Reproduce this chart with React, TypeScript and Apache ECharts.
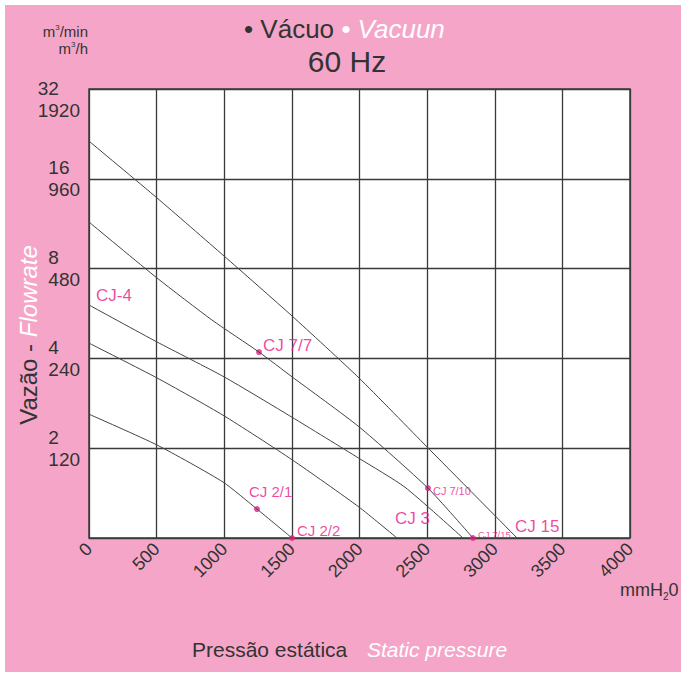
import React, { useEffect, useRef } from 'react';
import * as echarts from 'echarts';

// Curves: static pressure (mmH2O) vs flow (m3/min)
const cj15Pressure = [0, 503, 998, 1501, 1996, 2499, 3165];
const cj15Flow = [21.4, 13.8, 8.82, 5.55, 3.44, 2.02, 1.0];
const cj7Pressure = [0, 503, 909, 1257, 1501, 1996, 2506, 2839];
const cj7Flow = [11.46, 7.44, 5.38, 4.2, 3.47, 2.36, 1.47, 1.0];
const cj4Pressure = [0, 503, 998, 1501, 1996, 2336, 2765];
const cj4Flow = [6.04, 4.54, 3.47, 2.54, 1.85, 1.48, 1.0];
const cj3Pressure = [0, 503, 991, 1501, 1996, 2277];
const cj3Flow = [4.5, 3.44, 2.58, 1.83, 1.27, 1.0];
const cj2Pressure = [0, 503, 991, 1242, 1501];
const cj2Flow = [2.6, 2.05, 1.54, 1.25, 1.0];

// Model points marked with dots
const modelNames = ['CJ 7/7', 'CJ 7/10', 'CJ 7/15', 'CJ 2/1', 'CJ 2/2'];
const modelPressure = [1257, 2506, 2839, 1242, 1501];
const modelFlow = [4.2, 1.47, 1.0, 1.25, 1.0];

const PINK = '#F5A6C8';
const MAGENTA = '#E8198A';
const DARK = '#333333';
const FONT = 'Liberation Sans, Arial, sans-serif';

const labelStyles: Record<string, { offset: number[]; fontSize: number }> = {
  'CJ 7/7': { offset: [1, -7], fontSize: 17 },
  'CJ 7/10': { offset: [2, 3], fontSize: 11 },
  'CJ 7/15': { offset: [2, -4], fontSize: 9.5 },
  'CJ 2/1': { offset: [-11, -18], fontSize: 15 },
  'CJ 2/2': { offset: [2, -8], fontSize: 15 },
  'CJ-4': { offset: [7, -10], fontSize: 17 },
  'CJ 3': { offset: [-2, -20], fontSize: 17 },
  'CJ 15': { offset: [-2, -12], fontSize: 17 },
};

const zip = (xs: number[], ys: number[]) => xs.map((x, i) => [x, ys[i]]);

export default function App() {
  const ref = useRef<HTMLDivElement>(null);
  useEffect(() => {
    if (!ref.current) return;
    const chart = echarts.init(ref.current, undefined, { renderer: 'svg' });

    const curves = [
      zip(cj15Pressure, cj15Flow),
      zip(cj7Pressure, cj7Flow),
      zip(cj4Pressure, cj4Flow),
      zip(cj3Pressure, cj3Flow),
      zip(cj2Pressure, cj2Flow),
    ];

    const mkLabel = (name: string) => ({
      show: true,
      formatter: name,
      position: 'right',
      distance: 0,
      offset: labelStyles[name].offset,
      fontSize: labelStyles[name].fontSize,
      fontFamily: FONT,
      color: MAGENTA,
    });

    const familyAnchors = [
      { name: 'CJ-4', value: [cj4Pressure[0], cj4Flow[0]] },
      { name: 'CJ 3', value: [cj3Pressure[cj3Pressure.length - 1], cj3Flow[cj3Flow.length - 1]] },
      { name: 'CJ 15', value: [cj15Pressure[cj15Pressure.length - 1], cj15Flow[cj15Flow.length - 1]] },
    ];

    const option: any = {
      animation: false,
      backgroundColor: 'transparent',
      grid: {
        left: 89, top: 89, width: 541, height: 449,
        outerBoundsMode: 'none', containLabel: false,
        show: true, backgroundColor: '#ffffff', borderColor: '#3a3a3a', borderWidth: 1.5,
      },
      xAxis: {
        type: 'value', min: 0, max: 4000, interval: 500,
        axisLine: { show: false }, axisTick: { show: false },
        splitLine: { show: true, lineStyle: { color: '#3a3a3a', width: 1.3 } },
        axisLabel: {
          rotate: 45, fontSize: 18, color: DARK, fontFamily: FONT, margin: 8,
          formatter: (v: number) => String(Math.round(v)),
        },
      },
      yAxis: {
        type: 'log', logBase: 2, min: 1, max: 32,
        axisLine: { show: false }, axisTick: { show: false },
        splitLine: { show: true, lineStyle: { color: '#3a3a3a', width: 1.3 } },
        axisLabel: {
          align: 'right', margin: 9,
          formatter: (v: number) => {
            const r = Math.round(v);
            if (r <= 1) return '';
            if (r >= 32) return `{e|}\n{n|${r}}\n{n|${r * 60}}`;
            return `{n|${r}}\n{n|${r * 60}}`;
          },
          rich: {
            n: { fontSize: 19, lineHeight: 22, align: 'left', color: DARK, fontFamily: FONT },
            e: { fontSize: 19, lineHeight: 20, align: 'left' },
          },
        },
      },
      graphic: [
        {
          type: 'text', left: 244, top: 16,
          style: {
            text: '{a|• Vácuo }{b|• Vacuun}',
            rich: {
              a: { fontSize: 26, fill: DARK, fontFamily: FONT },
              b: { fontSize: 26, fill: '#ffffff', fontStyle: 'italic', fontFamily: FONT },
            },
          },
        },
        {
          type: 'text', x: 347, y: 61,
          style: { text: '60 Hz', fontSize: 30, fill: DARK, fontFamily: FONT, textAlign: 'center', textVerticalAlign: 'middle' },
        },
        {
          type: 'text', x: 28, y: 335, rotation: Math.PI / 2,
          style: {
            text: '{a|Vazão - }{b|Flowrate}', textAlign: 'center', textVerticalAlign: 'middle',
            rich: {
              a: { fontSize: 24, fill: DARK, fontFamily: FONT },
              b: { fontSize: 24, fill: '#ffffff', fontStyle: 'italic', fontFamily: FONT },
            },
          },
        },
        {
          type: 'text', x: 88, y: 31,
          style: {
            text: 'm{s|3}/min', fontSize: 15, fill: DARK, fontFamily: FONT, textAlign: 'right', textVerticalAlign: 'middle',
            rich: { s: { fontSize: 8, verticalAlign: 'top', fill: DARK, fontFamily: FONT, padding: [0, 0, 6, 0] } },
          },
        },
        {
          type: 'text', x: 88, y: 48,
          style: {
            text: 'm{s|3}/h', fontSize: 15, fill: DARK, fontFamily: FONT, textAlign: 'right', textVerticalAlign: 'middle',
            rich: { s: { fontSize: 8, verticalAlign: 'top', fill: DARK, fontFamily: FONT, padding: [0, 0, 6, 0] } },
          },
        },
        {
          type: 'text', x: 620, y: 590,
          style: {
            text: 'mmH{s|2}0', fontSize: 18, fill: DARK, fontFamily: FONT, textVerticalAlign: 'middle',
            rich: { s: { fontSize: 10, fill: DARK, fontFamily: FONT, padding: [12, 0, 0, 0] } },
          },
        },
        {
          type: 'text', x: 192, y: 649,
          style: { text: 'Pressão estática', fontSize: 21, fill: DARK, fontFamily: FONT, textVerticalAlign: 'middle' },
        },
        {
          type: 'text', x: 367, y: 649,
          style: { text: 'Static pressure', fontSize: 21, fill: '#ffffff', fontStyle: 'italic', fontFamily: FONT, textVerticalAlign: 'middle' },
        },
      ],
      series: [
        ...curves.map((d) => ({
          type: 'line', data: d, symbol: 'none', smooth: 0.2,
          lineStyle: { color: '#444', width: 1 }, silent: true,
        })),
        {
          type: 'scatter', clip: false, symbolSize: 6,
          itemStyle: { color: MAGENTA },
          data: modelNames.map((n, i) => ({ name: n, value: [modelPressure[i], modelFlow[i]], label: mkLabel(n) })),
        },
        {
          type: 'scatter', clip: false, symbolSize: 0,
          itemStyle: { color: 'transparent' },
          data: familyAnchors.map((a) => ({ name: a.name, value: a.value, label: mkLabel(a.name) })),
        },
      ],
    };
    chart.setOption(option);
    return () => chart.dispose();
  }, []);

  return (
    <div style={{ position: 'fixed', left: 0, top: 0, width: 683, height: 675, background: '#fff' }}>
      <div style={{ position: 'absolute', left: 5, top: 5, width: 676, height: 667, background: PINK }} />
      <div ref={ref} style={{ position: 'absolute', left: 0, top: 0, width: 683, height: 675 }} />
    </div>
  );
}
